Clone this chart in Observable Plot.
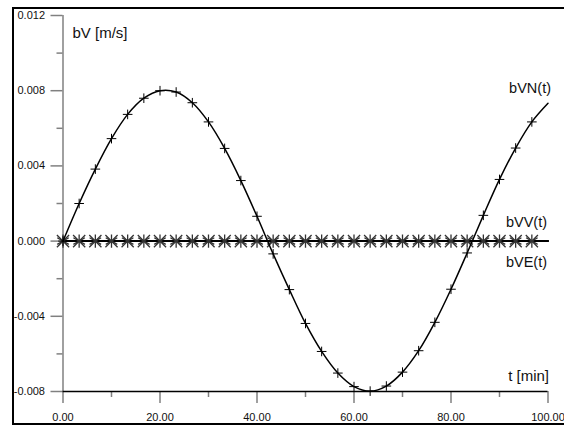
<!DOCTYPE html>
<html><head><meta charset="utf-8">
<script src="https://cdn.jsdelivr.net/npm/d3@7"></script>
<script src="https://cdn.jsdelivr.net/npm/@observablehq/plot@0.6"></script>
<style>
body{margin:0;background:#fff;}
#wrap{position:relative;width:564px;height:425px;overflow:hidden;}
#frame{position:absolute;left:12px;top:7px;width:600px;height:418px;box-sizing:border-box;border:2px solid #000;pointer-events:none;}
</style></head><body><div id="wrap"><div id="chart"></div><div id="frame"></div></div>
<script>
const t = [0, 3.33, 6.67, 10, 13.33, 16.67, 20, 23.33, 26.67, 30, 33.33, 36.67, 40, 43.33, 46.67, 50, 53.33, 56.67, 60, 63.33, 66.67, 70, 73.33, 76.67, 80, 83.33, 86.67, 90, 93.33, 96.67, 100];
const bVN = [0, 0.00200, 0.00383, 0.00545, 0.00674, 0.00760, 0.00800, 0.00793, 0.00736, 0.00634, 0.00493, 0.00322, 0.00132, -0.00068, -0.00258, -0.00438, -0.00587, -0.00702, -0.00774, -0.00798, -0.00771, -0.00697, -0.00583, -0.00432, -0.00256, -0.00063, 0.00137, 0.00328, 0.00495, 0.00634, 0.00733];
const bVV = [0,0,0,0,0,0,0,0,0,0,0,0,0,0,0,0,0,0,0,0,0,0,0,0,0,0,0,0,0,0,0];
const bVE = [0,0,0,0,0,0,0,0,0,0,0,0,0,0,0,0,0,0,0,0,0,0,0,0,0,0,0,0,0,0,0];
const xTicks = [0, 20, 40, 60, 80, 100];
const xMinor = [10, 30, 50, 70, 90];
const yTicks = [-0.008, -0.004, 0, 0.004, 0.008, 0.012];
const yMinor = [-0.006, -0.002, 0.002, 0.006, 0.010];
const seriesLabels = ["bVN(t)", "bVV(t)", "bVE(t)"];
const xTitle = "t [min]";
const yTitle = "bV [m/s]";

const data = t.map((d, i) => ({t: d, vn: bVN[i], vv: bVV[i], ve: bVE[i]}));
const markers = data.slice(0, data.length - 1);
const last = [data[data.length - 1]];
const fnt = "'Liberation Sans', Arial, Helvetica, sans-serif";

const plot = Plot.plot({
  width: 564, height: 425,
  marginLeft: 62.5, marginRight: 16.5, marginTop: 15, marginBottom: 34,
  x: {domain: [0, 100], axis: null},
  y: {domain: [-0.008, 0.012], axis: null},
  style: {fontFamily: fnt, fontSize: "11px", color: "#000", background: "transparent", overflow: "visible"},
  marks: [
    Plot.ruleX([0], {y1: yTicks[0], y2: yTicks[yTicks.length - 1], stroke: "#808080", strokeWidth: 1.5}),
    Plot.axisY({ticks: yMinor, tickSize: 6, tickFormat: () => "", stroke: "#808080", strokeWidth: 1.5, label: null}),
    Plot.axisY({ticks: yTicks, tickSize: 12, tickPadding: 6, tickFormat: d => d.toFixed(3), stroke: "#808080", strokeWidth: 1.5, fill: "#111", label: null}),
    Plot.axisX({ticks: xMinor, tickSize: 6, tickFormat: () => "", stroke: "#808080", strokeWidth: 1.5, label: null}),
    Plot.axisX({ticks: xTicks, tickSize: 12, tickPadding: 10, tickFormat: d => d.toFixed(2), stroke: "#808080", strokeWidth: 1.5, fill: "#111", label: null}),
    Plot.ruleY([yTicks[0]], {stroke: "#000", strokeWidth: 1.5}),
    Plot.line(data, {x: "t", y: "vv", stroke: "#000", strokeWidth: 2}),
    Plot.line(data, {x: "t", y: "ve", stroke: "#000", strokeWidth: 2}),
    Plot.dot(markers, {x: "t", y: "vv", symbol: "asterisk", r: 6.3, stroke: "#333", strokeWidth: 1.3}),
    Plot.dot(markers, {x: "t", y: "ve", symbol: "times", r: 5.6, stroke: "#333", strokeWidth: 1.3}),
    Plot.line(data, {x: "t", y: "vn", curve: "catmull-rom", stroke: "#000", strokeWidth: 1.5}),
    Plot.dot(markers, {x: "t", y: "vn", symbol: "plus", r: 3.2, stroke: "#000", strokeWidth: 1}),
    Plot.text(last, {x: "t", y: "vn", text: () => seriesLabels[0], textAnchor: "end", dx: 3, dy: -15, fontSize: 14.5, fill: "#111"}),
    Plot.text(last, {x: "t", y: "vv", text: () => seriesLabels[1], textAnchor: "end", dx: -1, dy: -19, fontSize: 14.5, fill: "#111"}),
    Plot.text(last, {x: "t", y: "ve", text: () => seriesLabels[2], textAnchor: "end", dx: -1, dy: 21, fontSize: 14.5, fill: "#111"}),
    Plot.text([xTitle], {frameAnchor: "bottom-right", textAnchor: "end", dx: 1, dy: -11, fontSize: 15, fill: "#111"}),
    Plot.text([yTitle], {frameAnchor: "top-left", textAnchor: "start", dx: 9.5, dy: 12, fontSize: 15, fill: "#111"})
  ]
});
document.getElementById("chart").appendChild(plot);
</script>
</body></html>
